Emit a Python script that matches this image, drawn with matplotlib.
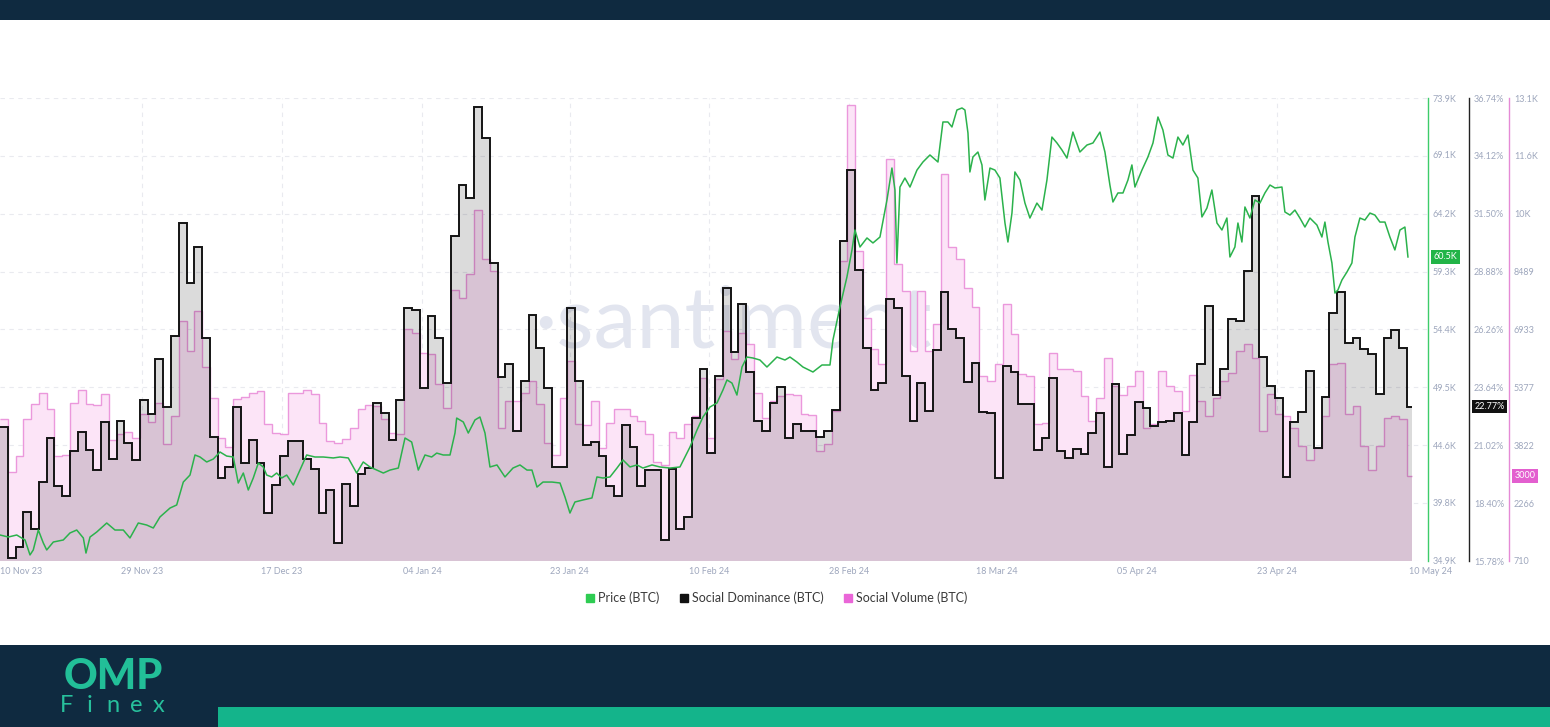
import numpy as np
import pandas as pd
import matplotlib
matplotlib.use("Agg")
import matplotlib.pyplot as plt
import matplotlib.dates as mdates
import matplotlib.transforms as mtrans
from matplotlib.lines import Line2D
from matplotlib.patches import Rectangle

plt.rcParams['font.family'] = ['Lato', 'DejaVu Sans']

# ---------------- data ----------------
start = pd.Timestamp('2023-11-10 17:30')   # left edge of the time axis

social_dominance = [
    21.85, 15.92, 16.41, 18.00, 17.23, 19.36, 21.35, 19.18, 18.72, 20.76,
    21.62, 20.80, 19.90, 22.07, 20.40, 22.12, 21.12, 20.35, 23.07, 22.43,
    24.92, 22.75, 25.97, 31.08, 28.37, 30.00, 25.88, 21.39, 19.54, 20.04,
    22.75, 20.22, 21.26, 20.22, 17.95, 19.22, 20.53, 21.21, 21.21, 20.40,
    19.94, 17.95, 18.99, 16.59, 19.27, 18.27, 19.72, 19.99, 22.93, 22.48,
    21.26, 23.07, 27.23, 27.14, 23.61, 26.87, 25.88, 23.84, 30.49, 32.80,
    32.21, 36.33, 34.93, 29.27, 24.11, 24.70, 21.66, 23.93, 26.92, 25.42,
    23.61, 20.04, 20.04, 27.23, 23.93, 21.03, 21.17, 20.53, 19.18, 18.72,
    21.94, 20.94, 19.18, 19.90, 19.90, 16.73, 19.94, 17.23, 17.77, 22.25,
    24.47, 20.67, 24.15, 28.14, 25.24, 27.41, 24.34, 22.12, 21.66, 22.93,
    23.66, 21.35, 21.98, 21.66, 21.66, 21.39, 21.66, 22.62, 30.27, 33.48,
    28.95, 25.42, 23.52, 23.84, 27.64, 27.23, 24.15, 22.12, 23.84, 22.57,
    25.33, 27.96, 26.28, 25.88, 23.88, 24.74, 22.53, 22.48, 19.54, 24.61,
    24.34, 22.89, 22.89, 20.80, 21.35, 24.06, 20.76, 20.44, 20.85, 20.62,
    21.57, 22.48, 20.04, 23.79, 20.62, 21.48, 22.98, 22.71, 21.89, 22.07,
    22.12, 22.48, 20.58, 22.07, 24.70, 27.32, 23.29, 24.47, 26.74, 26.64,
    28.91, 32.30, 25.02, 23.70, 23.16, 19.58, 22.07, 22.53, 24.38, 20.90,
    23.20, 27.01, 27.96, 25.65, 25.88, 25.38, 25.15, 23.34, 25.88, 26.24,
    25.42, 22.77,
]

social_volume = [
    4540, 3092, 3520, 4540, 4938, 5232, 4804, 3520, 3547, 4965,
    5313, 4938, 4911, 5206, 3975, 4135, 4189, 4028, 4670, 4456,
    4965, 3868, 4617, 7159, 6356, 7427, 5928, 5099, 4028, 3787,
    5072, 5125, 5232, 5286, 4403, 4162, 4135, 5232, 5232, 5313,
    5206, 4430, 3948, 3894, 4001, 4296, 4804, 4911, 4885, 4540,
    4162, 4135, 6945, 6838, 6303, 6276, 5473, 4831, 7989, 7775,
    8417, 10156, 8818, 8497, 4296, 5018, 5018, 5232, 5554, 4938,
    3894, 3547, 5099, 6089, 4403, 4376, 5018, 3734, 4430, 4804,
    4804, 4617, 4483, 4135, 3359, 3279, 4189, 4028, 4403, 4617,
    5634, 4028, 5607, 6892, 6142, 6838, 6544, 5232, 4563, 5018,
    5152, 5206, 5179, 4670, 4644, 3680, 3868, 4751, 8765, 12966,
    9032, 7239, 6410, 6008, 11521, 8684, 7962, 6356, 7962, 6356,
    7079, 11120, 9139, 8818, 8042, 7534, 5687, 5554, 6008, 7614,
    6811, 5741, 5687, 4403, 4430, 6303, 5875, 5875, 5821, 5152,
    4483, 5099, 6169, 5420, 5179, 5420, 5821, 4296, 4403, 5821,
    5420, 5286, 4751, 5714, 5018, 4617, 5099, 5554, 5768, 6356,
    6544, 6169, 4216, 5206, 4670, 4617, 4296, 3814, 3413, 3734,
    4617, 6008, 6035, 4670, 4885, 3814, 3145, 3814, 4563, 4617,
    4540, 3000,
]

# price samples: days since start, price in thousand USD
price_day = [
    0.00, 1.07, 2.15, 3.22, 3.86, 4.28, 4.93, 5.57, 6.01, 6.86,
    8.14, 9.00, 9.87, 10.72, 11.06, 11.58, 12.44, 13.73, 14.79, 15.86,
    16.72, 17.79, 18.87, 19.72, 20.58, 21.87, 22.73, 23.58, 24.44, 25.08,
    25.73, 26.59, 27.44, 28.30, 29.16, 30.01, 30.65, 31.30, 31.94, 32.58,
    33.23, 33.87, 34.31, 34.95, 35.59, 36.24, 36.88, 37.73, 38.59, 39.45,
    40.52, 41.59, 42.87, 43.74, 44.80, 45.88, 46.73, 47.59, 48.46, 49.31,
    50.17, 51.24, 52.10, 52.96, 53.81, 54.67, 55.53, 56.18, 57.02, 57.89,
    58.53, 58.75, 59.60, 60.24, 61.10, 61.74, 62.39, 63.03, 63.93, 64.96,
    65.99, 66.89, 67.79, 68.43, 69.08, 69.85, 71.01, 72.04, 72.68, 73.32,
    73.96, 74.99, 76.15, 76.79, 77.57, 78.47, 79.37, 80.14, 81.04, 81.94,
    82.71, 83.87, 84.90, 86.19, 87.47, 88.76, 89.66, 90.43, 91.33, 92.23,
    93.00, 93.52, 94.16, 94.80, 95.45, 96.09, 96.86, 97.76, 98.66, 99.95,
    100.98, 101.62, 102.52, 103.29, 104.58, 105.74, 106.77, 107.15, 108.05, 108.95,
    109.60, 109.98, 110.63, 111.53, 112.30, 113.20, 114.10, 114.74, 115.13, 115.38,
    115.77, 116.41, 117.06, 117.96, 118.73, 119.63, 120.66, 121.30, 121.94, 122.46,
    123.10, 123.75, 124.13, 124.52, 124.77, 125.16, 125.80, 126.32, 126.70, 127.35,
    127.99, 128.63, 129.28, 129.66, 130.18, 130.56, 131.21, 131.85, 132.49, 133.39,
    134.04, 134.68, 135.32, 135.97, 136.61, 137.25, 138.02, 138.92, 139.83, 140.60,
    141.50, 142.14, 142.78, 143.17, 143.81, 144.46, 145.10, 145.61, 146.00, 146.90,
    147.67, 148.32, 148.96, 149.60, 150.24, 150.89, 151.53, 152.17, 152.82, 153.46,
    154.10, 154.62, 155.26, 155.90, 156.55, 157.19, 157.83, 158.22, 158.86, 159.25,
    159.76, 160.15, 160.79, 161.44, 162.08, 162.72, 163.37, 164.01, 164.91, 165.29,
    165.94, 166.58, 167.22, 167.87, 168.51, 169.41, 170.05, 170.44, 170.83, 171.34,
    171.73, 172.11, 172.63, 173.27, 173.91, 174.30, 174.94, 175.58, 176.23, 176.87,
    177.51, 178.16, 178.80, 179.44, 180.09, 180.73, 181.12,
]
price_k = [
    37.09, 36.92, 37.09, 36.67, 35.41, 35.83, 37.51, 36.42, 35.83, 36.50,
    36.67, 37.26, 37.51, 36.84, 35.57, 36.92, 37.34, 38.10, 37.51, 37.51,
    36.84, 38.10, 37.93, 37.68, 38.61, 39.36, 39.62, 41.55, 42.14, 43.83,
    43.66, 43.24, 43.49, 44.08, 43.74, 43.66, 41.47, 42.31, 40.88, 41.89,
    43.15, 42.82, 42.14, 41.98, 42.31, 41.89, 42.14, 41.30, 42.56, 43.83,
    43.66, 43.66, 43.58, 43.66, 43.58, 42.31, 43.24, 42.82, 42.56, 42.31,
    42.56, 42.73, 45.26, 44.92, 42.56, 43.83, 43.66, 43.99, 43.83, 43.83,
    45.68, 46.94, 46.61, 45.68, 46.78, 47.03, 45.68, 42.82, 42.99, 41.98,
    42.73, 42.99, 42.56, 42.56, 41.13, 41.55, 41.55, 41.47, 40.29, 38.94,
    39.87, 40.04, 40.21, 41.98, 41.89, 41.98, 42.73, 43.41, 42.82, 42.99,
    42.73, 42.99, 42.82, 42.73, 42.82, 44.50, 45.93, 47.03, 47.87, 48.21,
    49.30, 50.15, 49.89, 48.88, 51.24, 52.08, 52.00, 51.83, 51.24, 52.08,
    51.83, 52.08, 51.66, 51.24, 50.82, 51.41, 51.41, 53.51, 56.29, 58.82,
    61.10, 62.78, 61.35, 62.11, 61.69, 62.19, 65.31, 68.00, 66.15, 60.00,
    66.40, 67.16, 66.40, 67.83, 68.51, 69.10, 68.51, 71.88, 71.88, 71.46,
    72.89, 73.06, 72.89, 70.95, 67.67, 68.93, 69.35, 68.26, 65.31, 68.00,
    67.83, 67.16, 63.37, 61.77, 64.21, 67.67, 66.99, 65.05, 63.79, 65.05,
    64.46, 66.99, 70.61, 70.11, 69.52, 68.84, 71.03, 69.35, 69.94, 70.11,
    71.03, 69.35, 66.57, 65.14, 65.90, 65.90, 66.99, 68.26, 66.40, 67.83,
    68.93, 70.11, 72.30, 71.20, 69.10, 68.84, 70.61, 69.94, 70.78, 67.83,
    67.16, 63.88, 64.63, 66.15, 63.37, 62.78, 63.79, 60.51, 61.35, 63.37,
    61.77, 64.72, 63.79, 65.31, 65.05, 65.90, 66.57, 66.32, 66.40, 64.30,
    64.04, 64.46, 63.79, 63.03, 63.79, 63.20, 62.19, 63.45, 61.77, 60.00,
    57.47, 57.73, 58.57, 59.24, 60.00, 62.19, 63.79, 63.62, 64.21, 64.04,
    63.45, 63.45, 62.19, 61.10, 62.78, 63.03, 60.51,
]

tick_dates = ['2023-11-29', '2023-12-17', '2024-01-04', '2024-01-23', '2024-02-10',
              '2024-02-28', '2024-03-18', '2024-04-05', '2024-04-23']
tick_labels = ['29 Nov 23', '17 Dec 23', '04 Jan 24', '23 Jan 24', '10 Feb 24',
               '28 Feb 24', '18 Mar 24', '05 Apr 24', '23 Apr 24']
first_label = '10 Nov 23'
last_date, last_label = '2024-05-10', '10 May 24'

price_ticks = [34.9, 39.8, 44.6, 49.5, 54.4, 59.3, 64.2, 69.1, 73.9]
price_labels = ['34.9K', '39.8K', '44.6K', '49.5K', '54.4K', '59.3K', '64.2K', '69.1K', '73.9K']
dom_ticks = [15.78, 18.40, 21.02, 23.64, 26.26, 28.88, 31.50, 34.12, 36.74]
dom_labels = ['15.78%', '18.40%', '21.02%', '23.64%', '26.26%', '28.88%', '31.50%', '34.12%', '36.74%']
vol_ticks = [710, 2266, 3822, 5377, 6933, 8489, 10044, 11600, 13155]
vol_labels = ['710', '2266', '3822', '5377', '6933', '8489', '10K', '11.6K', '13.1K']
legend_labels = ['Price (BTC)', 'Social Dominance (BTC)', 'Social Volume (BTC)']

# ---------------- styling ----------------
NAVY = '#0f2a40'
TEAL = '#14b48b'
GREEN = '#2bb24c'
PINK_LINE = '#eb98dc'
PINK_FILL = '#fce4f7'
LABEL = '#9ea7bd'
GRID = '#e9eaef'

W, H = 1550, 727
fig = plt.figure(figsize=(W / 100, H / 100), dpi=100)
fig.patch.set_facecolor('white')

# header / footer bands
fig.patches.append(Rectangle((0, 1 - 20 / H), 1, 20 / H, transform=fig.transFigure,
                             facecolor=NAVY, edgecolor='none', zorder=0))
fig.patches.append(Rectangle((0, 0), 1, 82 / H, transform=fig.transFigure,
                             facecolor=NAVY, edgecolor='none', zorder=0))
fig.patches.append(Rectangle((218 / W, 0), 1 - 218 / W, 20 / H, transform=fig.transFigure,
                             facecolor=TEAL, edgecolor='none', zorder=1))

# logo
fig.text(113 / W, 1 - 677 / H, 'OMP', ha='center', va='center', fontsize=30,
         fontweight='black', color='#22bf98')
for k, ch in enumerate('Finex'):
    fig.text((67 + 23 * k) / W, 1 - 705 / H, ch, ha='center', va='center',
             fontsize=17, fontweight='normal', color='#27c09c')

# axes
ax_right_px, ax_top_px, ax_bot_px = 1428, 98, 561
ax = fig.add_axes([0, 1 - ax_bot_px / H, ax_right_px / W, (ax_bot_px - ax_top_px) / H])
ax_dom = ax.twinx()
ax_price = ax.twinx()

t0 = mdates.date2num(start)
n = len(social_dominance)
edges = t0 + np.arange(n + 1, dtype=float)
edges[-1] = t0 + 181.6
x_price = t0 + np.array(price_day)

xmin, xmax = t0, t0 + 183.7
for a in (ax, ax_dom, ax_price):
    a.set_xlim(xmin, xmax)
    for s in ('left', 'top', 'bottom'):
        a.spines[s].set_visible(False)

ax.set_ylim(vol_ticks[0], vol_ticks[-1])
ax_dom.set_ylim(dom_ticks[0], dom_ticks[-1])
ax_price.set_ylim(price_ticks[0], price_ticks[-1])

# grid
for v in vol_ticks:
    ax.axhline(v, color=GRID, lw=0.8, ls=(0, (4, 4)), zorder=0.5)
for d in tick_dates:
    ax.axvline(mdates.date2num(pd.Timestamp(d)), color=GRID, lw=0.8, ls=(0, (4, 4)), zorder=0.5)

# watermark
ax.text(733 / ax_right_px, (ax_bot_px - 347) / (ax_bot_px - ax_top_px), '\u00b7santiment',
        transform=ax.transAxes, ha='center', va='baseline', fontsize=62,
        fontweight='normal', color='#e2e5ef', zorder=0.8)

# social volume (pink)
ax.stairs(social_volume, edges, baseline=vol_ticks[0], fill=True,
          facecolor=PINK_FILL, edgecolor='none', zorder=1)
ax.stairs(social_volume, edges, baseline=None, color=PINK_LINE, lw=1.0, zorder=2)

# social dominance (black)
ax_dom.stairs(social_dominance, edges, baseline=dom_ticks[0], fill=True,
              facecolor=(0, 0, 0, 0.14), edgecolor='none', zorder=1)
ax_dom.stairs(social_dominance, edges, baseline=None, color='#141414', lw=1.4, zorder=2)

# price (green)
ax_price.plot(x_price, price_k, color=GREEN, lw=1.1, zorder=3)

# x ticks
xt = [mdates.date2num(pd.Timestamp(d)) for d in tick_dates]
ax.set_xticks([xmin] + xt + [mdates.date2num(pd.Timestamp(last_date))])
ax.set_xticklabels([first_label] + tick_labels + [last_label])
ax.tick_params(axis='x', length=0, pad=4, labelsize=6.5, labelcolor=LABEL)
xtl = ax.get_xticklabels()
xtl[0].set_ha('left')
xtl[-1].set_ha('left')

# right axes
ax.yaxis.tick_right()
ax.spines['right'].set_position(('axes', 1509 / ax_right_px))
ax.spines['right'].set_color('#e58ad6')
ax.set_yticks(vol_ticks)
ax.set_yticklabels(vol_labels)

ax_dom.spines['right'].set_position(('axes', 1469 / ax_right_px))
ax_dom.spines['right'].set_color('#222222')
ax_dom.set_yticks(dom_ticks)
ax_dom.set_yticklabels(dom_labels)

ax_price.spines['right'].set_position(('axes', 1.0))
ax_price.spines['right'].set_color('#3dcc6a')
ax_price.set_yticks(price_ticks)
ax_price.set_yticklabels(price_labels)

for a in (ax, ax_dom, ax_price):
    a.spines['right'].set_linewidth(1.0)
    a.tick_params(axis='y', length=0, pad=3.5, labelsize=6.5, labelcolor=LABEL)

# last-value badges
def badge(a, x_axes, y, text, fc):
    tr = mtrans.blended_transform_factory(a.transAxes, a.transData)
    a.text(x_axes, y, text, transform=tr, ha='left', va='center', fontsize=6.5,
           color='white', clip_on=False, zorder=10,
           bbox=dict(boxstyle='square,pad=0.25', facecolor=fc, edgecolor='none'))

badge(ax_price, 1 + 5.5 / ax_right_px, price_k[-1], f'{price_k[-1]:.1f}K', '#22b447')
badge(ax_dom, (1469 + 5.5) / ax_right_px, social_dominance[-1], f'{social_dominance[-1]:.2f}%', '#111111')
badge(ax, (1509 + 5.5) / ax_right_px, social_volume[-1], f'{social_volume[-1]}', '#e35fcf')

# legend
handles = [Line2D([], [], marker='s', ls='', color=c, markersize=6)
           for c in ('#2ecc52', '#111111', '#ea66d8')]
fig.legend(handles, legend_labels, loc='center', bbox_to_anchor=(776 / W, 1 - 598 / H),
           ncol=3, frameon=False, fontsize=9, handletextpad=0.2, columnspacing=1.5,
           handlelength=0.9, labelcolor='#3a3a3a')

fig.savefig('out.png', dpi=100, facecolor='white')
